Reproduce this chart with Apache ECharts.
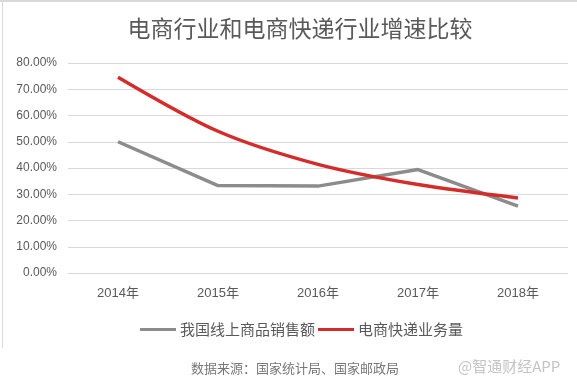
<!DOCTYPE html>
<html>
<head>
<meta charset="utf-8">
<script src="https://cdn.jsdelivr.net/npm/echarts@6/dist/echarts.min.js"></script>
<style>
html,body{margin:0;padding:0;background:#fff;}
#chart{width:577px;height:385px;}
</style>
</head>
<body>
<div id="chart"></div>
<script>
var titleText = '电商行业和电商快递行业增速比较';
var categories = ['2014年', '2015年', '2016年', '2017年', '2018年'];
var seriesNames = ['我国线上商品销售额', '电商快递业务量'];
var onlineSales = [0.50, 0.333, 0.331, 0.394, 0.255];
var expressVolume = [0.746, 0.540, 0.414, 0.337, 0.286];
var yTicks = [0, 0.1, 0.2, 0.3, 0.4, 0.5, 0.6, 0.7, 0.8];
var sourceText = '数据来源：国家统计局、国家邮政局';
var watermarkText = '@智通财经APP';

var cjk = '"Noto Sans CJK SC", "Liberation Sans", sans-serif';
var num = '"Liberation Sans", "Noto Sans CJK SC", sans-serif';

var chart = echarts.init(document.getElementById('chart'), null, {renderer: 'canvas'});
chart.setOption({
  backgroundColor: '#ffffff',
  animation: false,
  title: {
    text: titleText,
    left: 295, top: 12, textAlign: 'center',
    textStyle: {fontFamily: cjk, fontSize: 23, fontWeight: 'normal', color: '#595959'}
  },
  legend: {
    data: seriesNames,
    left: 135, top: 317,
    itemWidth: 36, itemHeight: 3, itemGap: 3,
    icon: 'rect',
    textStyle: {fontFamily: cjk, fontSize: 15, color: '#595959', padding: [0, 0, 0, -1]}
  },
  grid: {left: 68, right: 9, top: 63, bottom: 112, containLabel: false},
  xAxis: {
    type: 'category',
    data: categories,
    boundaryGap: true,
    axisLine: {show: false},
    axisTick: {show: false},
    axisLabel: {fontFamily: num, fontSize: 13, color: '#595959', margin: 14}
  },
  yAxis: {
    type: 'value',
    min: yTicks[0], max: yTicks[yTicks.length - 1], interval: 0.1,
    axisLine: {show: false},
    axisTick: {show: false},
    splitLine: {lineStyle: {color: '#d9d9d9', width: 1}},
    axisLabel: {
      fontFamily: num, fontSize: 12, color: '#595959', margin: 11,
      formatter: function (v) { return (v * 100).toFixed(2) + '%'; }
    }
  },
  series: [
    {
      name: seriesNames[0], type: 'line', data: onlineSales,
      symbol: 'none', smooth: false,
      itemStyle: {color: '#8c8c8c'},
      lineStyle: {color: '#8c8c8c', width: 3.5}
    },
    {
      name: seriesNames[1], type: 'line', data: expressVolume,
      symbol: 'none', smooth: 0.3,
      itemStyle: {color: '#d42b2b'},
      lineStyle: {color: '#d42b2b', width: 3.5}
    }
  ],
  graphic: [
    {type: 'line', shape: {x1: 0, y1: 1, x2: 577, y2: 1}, style: {stroke: '#d9d9d9', lineWidth: 2}},
    {type: 'line', shape: {x1: 2.5, y1: 0, x2: 2.5, y2: 348}, style: {stroke: '#d9d9d9', lineWidth: 1}},
    {type: 'text', left: 191, top: 362, style: {text: sourceText, fontFamily: cjk, fontSize: 13, fill: '#777777'}},
    {type: 'text', left: 458, top: 359, style: {text: watermarkText, fontFamily: cjk, fontSize: 15, fill: '#c4c4c4'}}
  ]
});
</script>
</body>
</html>
